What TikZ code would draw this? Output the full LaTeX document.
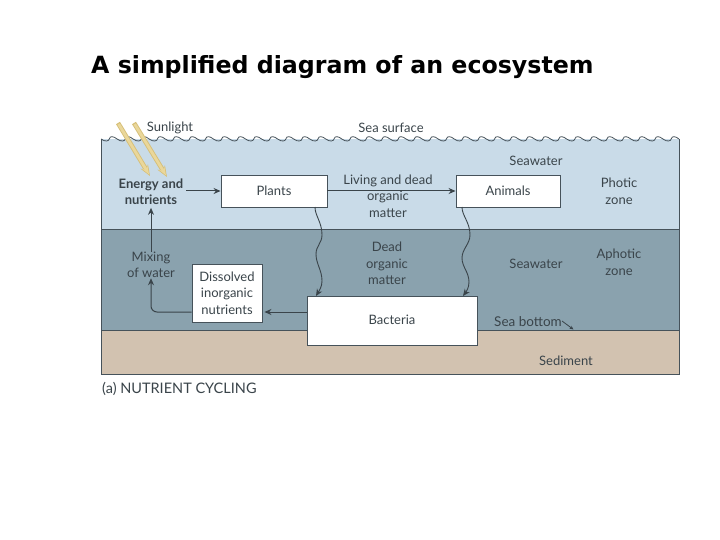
\documentclass[tikz,border=0pt]{standalone}
\usepackage{fontspec}
\setmainfont{Lato}
\newfontfamily\titlefont{DejaVu Sans}
\definecolor{photic}{HTML}{C9DBE8}
\definecolor{aphotic}{HTML}{8AA2AE}
\definecolor{sediment}{HTML}{D2C2B0}
\definecolor{framec}{HTML}{46525A}
\definecolor{inkc}{HTML}{3A444A}
\definecolor{sunf}{HTML}{EAD79A}
\definecolor{sund}{HTML}{D6BF78}
\usetikzlibrary{arrows.meta,calc}
\tikzset{
  lab/.style={font=\fontsize{13}{16.5}\selectfont,text=inkc,align=center,inner sep=0pt},
  boxn/.style={draw=framec,line width=0.9pt,fill=white,inner sep=0pt,font=\fontsize{13}{16.5}\selectfont,text=inkc,align=center},
  flow/.style={draw=inkc,line width=1pt,-{Stealth[length=7pt,width=6pt]}},
  wavy/.style={draw=inkc,line width=0.9pt},
  rayedge/.style={draw=sund,line width=4.6pt,-{Stealth[length=11pt,width=8.5pt]}},
  rayfill/.style={draw=sunf,line width=2.8pt,-{Stealth[length=8pt,width=6pt]}}
}
\begin{document}
\begin{tikzpicture}[x=1pt,y=-1pt]
\useasboundingbox (0,0) rectangle (720,540);
% bands
\fill[photic] (101,139) rectangle (679,230);
\fill[aphotic] (101,230) rectangle (679,330);
\fill[sediment] (101,330) rectangle (679,374);
\draw[framec,line width=1pt] (101,230) -- (679,230);
\draw[framec,line width=1pt] (101,330) -- (679,330);
\draw[framec,line width=1pt] (101,139) -- (101,374) -- (679,374) -- (679,139);
% wave surface
\draw[framec,line width=0.8pt] (101,139)
  \foreach \i in {0,...,35} { .. controls ({101+16.055*\i+4},{142}) and ({101+16.055*\i+8},{141.5}) .. ({101+16.055*\i+8.5},{138.5})
    .. controls ({101+16.055*\i+9},{136}) and ({101+16.055*\i+12.5},{136}) .. ({101+16.055*(\i+1)},{139}) };
% rays
\coordinate (r1a) at (118,123); \coordinate (r1b) at (150,176);
\coordinate (r2a) at (134,123); \coordinate (r2b) at (167,177);
\draw[rayedge] (r1a) -- (r1b);
\draw[rayfill] ($(r1a)!0.02!(r1b)$) -- ($(r1a)!0.97!(r1b)$);
\draw[rayedge] (r2a) -- (r2b);
\draw[rayfill] ($(r2a)!0.02!(r2b)$) -- ($(r2a)!0.97!(r2b)$);
% title
\node[inner sep=0pt,anchor=west,font=\titlefont\bfseries\fontsize{23.7}{28}\selectfont] (title) at (91,67) {A simplified diagram of an ecosystem};
% boxes
\node[boxn,minimum width=106pt,minimum height=32pt] (plants) at (274,191) {Plants};
\node[boxn,minimum width=104pt,minimum height=32pt] (animals) at (508,191) {Animals};
\node[boxn,minimum width=170pt,minimum height=49pt] (bacteria) at (392,320.5) {\raisebox{1pt}{Bacteria}};
\node[boxn,minimum width=70pt,minimum height=58pt] (dissolved) at (227,293) {Dissolved\\inorganic\\nutrients};
% labels
\node[lab] (sunlight) at (170,128) {Sunlight};
\node[lab] (surface) at (391,128) {Sea surface};
\node[lab] (energy) at (151,191.5) {\textbf{Energy and}\\\textbf{nutrients}};
\node[lab] (mixing) at (151,265) {Mixing\\of water};
\node[lab] (living) at (388,196) {Living and dead\\organic\\matter};
\node[lab] (dead) at (387,263.5) {Dead\\organic\\matter};
\node[lab] (sw1) at (536,160.5) {Seawater};
\node[lab] (sw2) at (536,264) {Seawater};
\node[lab] (photiczone) at (619,191.5) {Photic\\zone};
\node[lab] (aphoticzone) at (619,262.5) {Aphotic\\zone};
\node[lab,font=\fontsize{13.5}{16.5}\selectfont] (seabottom) at (528,322) {Sea bottom};
\node[lab] (sedimentl) at (566,361) {Sediment};
\node[lab,anchor=west,font=\fontsize{14.5}{16.5}\selectfont] (caption) at (102,388.5) {(a) NUTRIENT CYCLING};
% flows
\coordinate (de) at ([yshift=-19pt,xshift=2pt]dissolved.east);
\coordinate (dw) at ([yshift=-19pt]dissolved.west);
\coordinate (bd) at (bacteria.west |- de);
\coordinate (ee) at ([xshift=3pt]energy.east |- plants.west);
\coordinate (es) at ([yshift=-3pt]energy.south);
\draw[flow] (ee) -- (plants.west);
\draw[flow] (plants.east) -- (animals.west);
\draw[flow] (mixing.north) -- (es);
\draw[flow] (bd) -- (de);
\draw[flow,rounded corners=6pt] (dw) -| (mixing.south);
% wavy connectors
\coordinate (pw) at (315,207);
\coordinate (bw) at (316,296);
\draw[wavy,-{Stealth[length=7pt,width=6pt]}] (pw) .. controls (315,216) and (322,222) .. (322,235)
  .. controls (322,243) and (316,246) .. (316,254)
  .. controls (316,264) and (322,270) .. (322,281)
  .. controls (322,287) and (319,291) .. (bw);
\coordinate (aw) at (462,207);
\coordinate (cw) at (463,296);
\draw[wavy,-{Stealth[length=7pt,width=6pt]}] (aw) .. controls (462,216) and (470,222) .. (470,235)
  .. controls (470,244) and (462,249) .. (462,258)
  .. controls (462,267) and (469,272) .. (469,282)
  .. controls (469,288) and (466,292) .. (cw);
% sea bottom pointer
\coordinate (sbs) at ([yshift=1pt]seabottom.east);
\coordinate (sbt) at (573.5,329.5);
\draw[draw=inkc,line width=0.8pt,-{Stealth[length=4pt,width=3.5pt]}] (sbs) -- (sbt);
\end{tikzpicture}
\end{document}
